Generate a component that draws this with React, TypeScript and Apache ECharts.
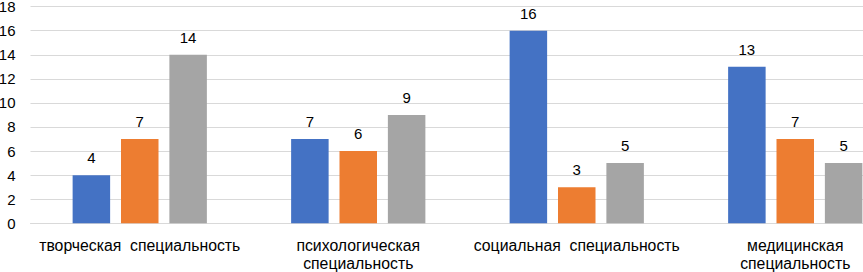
import React, { useEffect, useRef } from "react";
import * as echarts from "echarts";

const categories = [
  "творческая  специальность",
  "психологическая\nспециальность",
  "социальная  специальность",
  "медицинская\nспециальность",
];
const seriesA = [4, 7, 16, 13];
const seriesB = [7, 6, 3, 7];
const seriesC = [14, 9, 5, 5];
const colors = ["#4472C4", "#ED7D31", "#A5A5A5"];

export default function App() {
  const ref = useRef<HTMLDivElement>(null);
  useEffect(() => {
    const chart = echarts.init(ref.current!, null, { renderer: "svg" });
    const font = "Liberation Sans, Arial, sans-serif";
    const mk = (data: number[], i: number) => ({
      type: "bar",
      data,
      barWidth: 37.5,
      barGap: "29%",
      itemStyle: { color: colors[i] },
      label: {
        show: true,
        position: "top",
        distance: 10,
        color: "#000",
        fontSize: 15,
        fontFamily: font,
      },
    });
    chart.setOption({
      animation: false,
      grid: {
        left: 30.5,
        top: 6.6,
        width: 874,
        height: 216.7,
        containLabel: false,
        outerBoundsMode: "none",
      },
      xAxis: {
        type: "category",
        data: categories,
        axisLine: { lineStyle: { color: "#d9d9d9", width: 1 } },
        axisTick: { show: false },
        axisLabel: {
          interval: 0,
          color: "#000",
          fontSize: 15.8,
          fontFamily: font,
          margin: 13,
          lineHeight: 18,
        },
      },
      yAxis: {
        type: "value",
        min: 0,
        max: 18,
        interval: 2,
        axisLine: { show: false },
        axisTick: { show: false },
        splitLine: { lineStyle: { color: "#d9d9d9", width: 1 } },
        axisLabel: { color: "#000", fontSize: 15, fontFamily: font, margin: 15 },
      },
      series: [mk(seriesA, 0), mk(seriesB, 1), mk(seriesC, 2)],
    });
    return () => chart.dispose();
  }, []);
  return (
    <div style={{ position: "absolute", left: 0, top: 0, width: 863, height: 272, overflow: "hidden" }}>
      <div ref={ref} style={{ width: 920, height: 272 }} />
    </div>
  );
}
